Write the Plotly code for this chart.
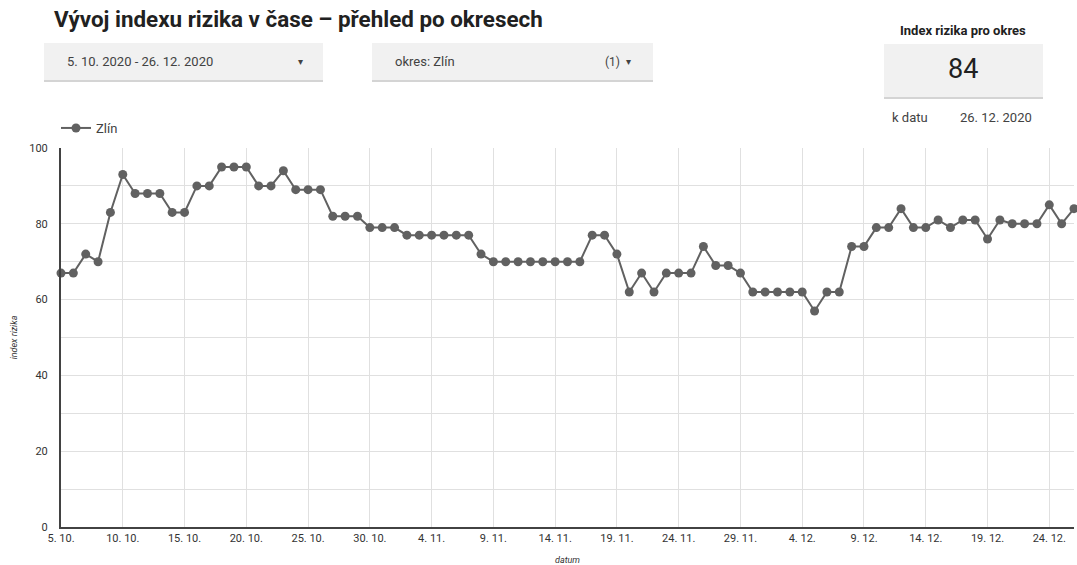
import pandas as pd
import plotly.graph_objects as go

# ── Data ──────────────────────────────────────────────────────────────────────
START_DATE = "2020-10-05"
END_DATE = "2020-12-26"

OCT_VALUES = [67, 67, 72, 70, 83, 93, 88, 88, 88, 83, 83, 90, 90, 95, 95, 95,
              90, 90, 94, 89, 89, 89, 82, 82, 82, 79, 79]
NOV_VALUES = [79, 77, 77, 77, 77, 77, 77, 72, 70, 70, 70, 70, 70, 70, 70, 70,
              77, 77, 72, 62, 67, 62, 67, 67, 67, 74, 69, 69, 67, 62]
DEC_VALUES = [62, 62, 62, 62, 57, 62, 62, 74, 74, 79, 79, 84, 79, 79, 81, 79,
              81, 81, 76, 81, 80, 80, 80, 85, 80, 84]

SERIES_NAME = "Zlín"
SCORE_VALUE = "84"
SCORE_DATE = "26. 12. 2020"
DATE_FILTER = "5. 10. 2020 - 26. 12. 2020"
REGION_FILTER = "okres: Zlín"

dates = pd.date_range(START_DATE, END_DATE, freq="D")
values = OCT_VALUES + NOV_VALUES + DEC_VALUES

# ── Design tokens ─────────────────────────────────────────────────────────────
FONT = "Roboto, Arial, sans-serif"
LINE = "#616161"
TEXT = "#333333"
DARK = "#212121"
GRID = "#e0e0e0"
BOX = "#f1f1f1"

W, H = 1077, 565
L, R, T, B = 61, 3, 148, 38
PW, PH = W - L - R, H - T - B


def px(x):
    # page pixel -> paper x
    return (x - L) / PW


def py(y):
    # page pixel -> paper y
    return (H - B - y) / PH


fig = go.Figure()
fig.add_trace(go.Scatter(
    x=dates,
    y=values,
    name=SERIES_NAME,
    mode="lines+markers",
    line=dict(color=LINE, width=2),
    marker=dict(color=LINE, size=9),
    cliponaxis=False,
))

# ── Control boxes (date range, region filter, scorecard) ──────────────────────
shapes = []
for x0, y0, x1, y1 in [(44, 43, 323, 80), (372, 43, 653, 80), (884, 44, 1043, 97)]:
    shapes.append(dict(type="rect", xref="paper", yref="paper",
                       x0=px(x0), x1=px(x1), y0=py(y1 + 2), y1=py(y0 + 1),
                       fillcolor="#d4d4d4", line_width=0, layer="below"))
    shapes.append(dict(type="rect", xref="paper", yref="paper",
                       x0=px(x0), x1=px(x1), y0=py(y1), y1=py(y0),
                       fillcolor=BOX, line_width=0, layer="below"))


def note(text, x, y, size, xanchor="left", color=TEXT):
    return dict(text=text, x=px(x), y=py(y), xref="paper", yref="paper",
                xanchor=xanchor, yanchor="middle", showarrow=False,
                font=dict(family=FONT, size=size, color=color))


annotations = [
    note("<b>Vývoj indexu rizika v čase – přehled po okresech</b>", 52, 19, 22.4, color=DARK),
    note(DATE_FILTER, 65, 62, 13, color="#424242"),
    note("▾", 296, 62, 10, color="#424242"),
    note(REGION_FILTER, 393, 62, 13, color="#424242"),
    note("(1)", 603, 62, 12, color="#424242"),
    note("▾", 624, 62, 10, color="#424242"),
    note("<b>Index rizika pro okres</b>", 963, 31, 13, xanchor="center", color=DARK),
    note(SCORE_VALUE, 963, 69, 27, xanchor="center", color=DARK),
    note("k datu", 890, 117, 13, color="#424242"),
    note(SCORE_DATE, 958, 117, 13, color="#424242"),
]

fig.update_layout(
    width=W,
    height=H,
    font=dict(family=FONT, color=TEXT, size=11),
    paper_bgcolor="white",
    plot_bgcolor="white",
    margin=dict(l=L, r=R, t=T, b=B, autoexpand=False),
    showlegend=True,
    legend=dict(
        orientation="h",
        x=px(56), y=py(128),
        xanchor="left", yanchor="middle",
        font=dict(size=13, color="#424242"),
        bgcolor="rgba(0,0,0,0)",
    ),
    xaxis=dict(
        range=[START_DATE, END_DATE],
        tick0=START_DATE,
        dtick=5 * 86400000,
        tickformat="%-d. %-m.",
        showgrid=True,
        gridcolor=GRID,
        gridwidth=1,
        showline=True,
        linecolor="#424242",
        linewidth=2,
        zeroline=False,
        ticks="",
        tickfont=dict(size=11, color=TEXT),
        title=dict(text="<i>datum</i>", font=dict(size=9, color=TEXT), standoff=12),
    ),
    yaxis=dict(
        range=[0, 100],
        dtick=20,
        showgrid=True,
        gridcolor=GRID,
        gridwidth=1,
        minor=dict(dtick=10, showgrid=True, gridcolor=GRID, gridwidth=1),
        showline=True,
        linecolor="#424242",
        linewidth=2,
        zeroline=False,
        ticks="",
        ticklabelstandoff=9,
        tickfont=dict(size=11, color=TEXT),
        title=dict(text="<i>index rizika</i>", font=dict(size=9, color=TEXT), standoff=10),
    ),
    shapes=shapes,
    annotations=annotations,
)

# drop the browser's default body margin so the figure sits at the page origin
fig.write_html(
    "out.html",
    config={"displayModeBar": False},
    post_script="document.body.style.margin = '0';",
)
